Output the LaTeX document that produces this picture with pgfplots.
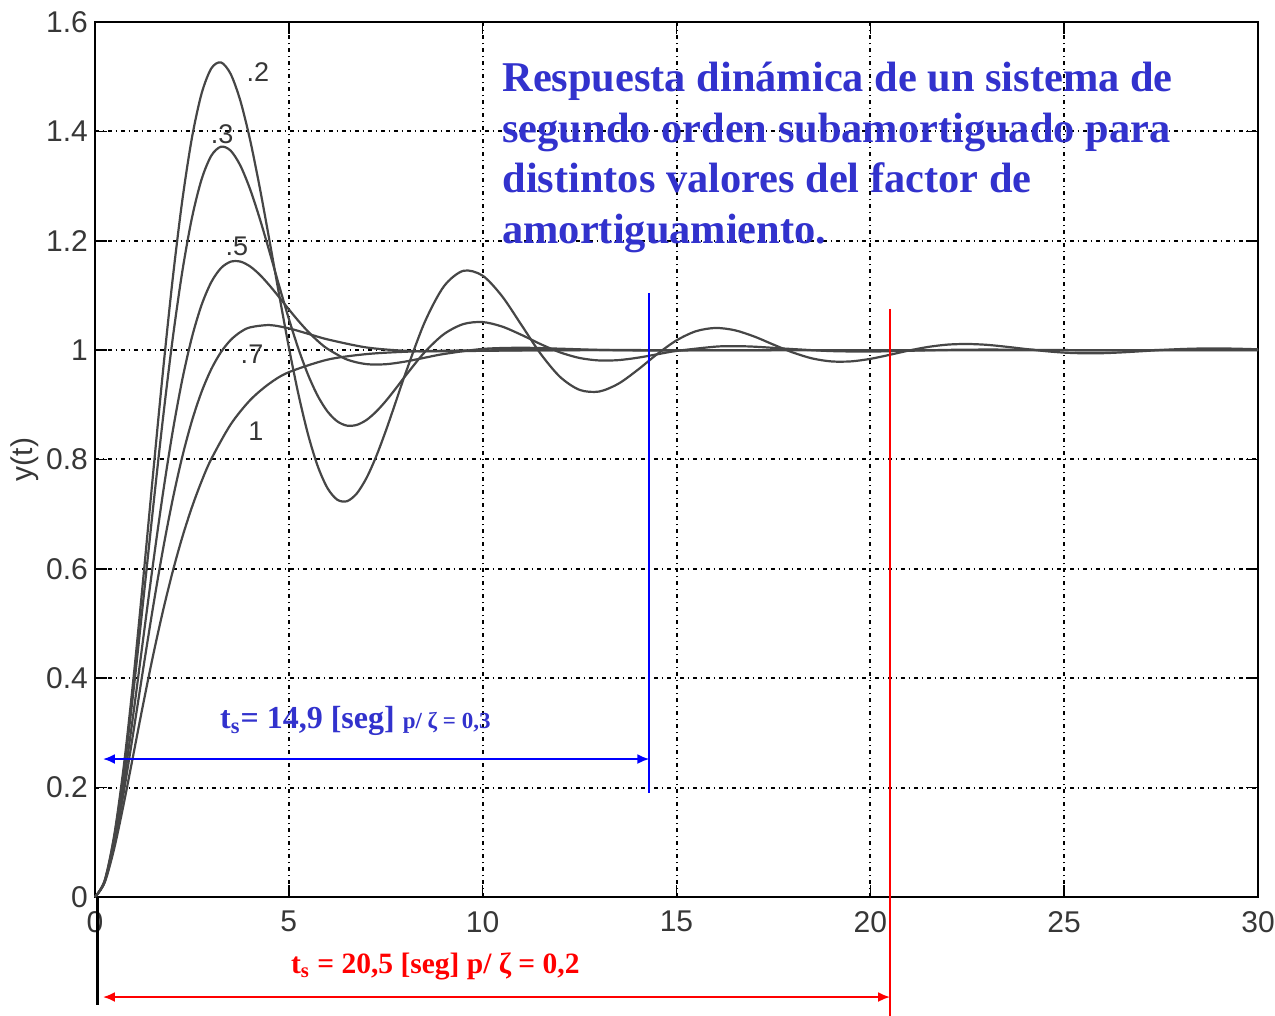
\documentclass[border=0pt]{standalone}
\usepackage{fontspec}
\setmainfont{Liberation Serif}
\setsansfont{Liberation Sans}
\usepackage{pgfplots}
\pgfplotsset{compat=1.18}
\usetikzlibrary{arrows.meta}
\definecolor{titleblue}{RGB}{50,50,205}
\definecolor{tickgray}{RGB}{55,55,55}
\definecolor{crvgray}{RGB}{70,70,70}

\begin{document}
\begin{tikzpicture}
\begin{axis}[
  at={(0,0)}, anchor=south west,
  scale only axis, width=581.5pt, height=437.5pt,
  xmin=0, xmax=30, ymin=0, ymax=1.6,
  xtick={0,5,10,15,20,25,30},
  ytick={0,0.2,0.4,0.6,0.8,1,1.2,1.4,1.6},
  yticklabels={0,0.2,0.4,0.6,0.8,1,1.2,1.4,1.6},
  /pgf/number format/assume math mode=true,
  ticklabel style={font=\sffamily\fontsize{15}{15}\selectfont, text=tickgray},
  xticklabel style={yshift=-3.5pt},
  ylabel={y(t)},
  every axis y label/.style={at={(axis description cs:-0.0602,0.5)}, rotate=90, anchor=center,
    font=\sffamily\fontsize{15}{15}\selectfont, text=tickgray},
  tick align=inside, major tick length=6pt,
  tick style={black, line width=0.8pt},
  axis line style={black, line width=1pt},
  grid=major,
  major grid style={black, line width=1pt, dash pattern=on 2pt off 1.8pt on 0.9pt off 1.8pt},
  clip=false,
  crv/.style={crvgray, line width=1.1pt, smooth, no markers},
]
% zeta = 1
\addplot[crv] table {
t y
0 0
0.25 0.0265
0.5 0.0902
0.75 0.1734
1 0.2642
1.25 0.3554
1.5 0.4422
1.75 0.5221
2 0.5940
2.25 0.6575
2.5 0.7127
2.75 0.7603
3 0.8009
3.5 0.8641
4 0.9084
4.5 0.9389
5 0.9596
6 0.9826
7 0.9927
8 0.9970
9 0.9988
10 0.9995
12 0.9999
15 1.0000
20 1
25 1
30 1
};
% zeta = 0.7
\addplot[crv] table {
t y
0 0
0.25 0.0278
0.5 0.0984
0.75 0.1953
1 0.3059
1.25 0.4203
1.5 0.5313
1.75 0.6341
2 0.7257
2.25 0.8047
2.5 0.8706
2.75 0.9238
3 0.9653
3.25 0.9964
3.5 1.0185
3.75 1.0330
4 1.0416
4.5 1.0458
5 1.0398
5.5 1.0298
6 1.0196
7 1.0049
8 0.9988
9 0.9979
10 0.9987
12 1.0000
15 1
20 1
25 1
30 1
};
% zeta = 0.5
\addplot[crv] table {
t y
0 0
0.25 0.0287
0.5 0.1044
0.75 0.2127
1 0.3403
1.25 0.4760
1.5 0.6105
1.75 0.7367
2 0.8494
2.25 0.9455
2.5 1.0234
2.75 1.0827
3 1.1244
3.25 1.1500
3.5 1.1617
3.75 1.1619
4 1.1531
4.25 1.1379
4.5 1.1184
4.75 1.0968
5 1.0746
5.25 1.0532
5.5 1.0336
5.75 1.0165
6 1.0023
6.5 0.9828
7 0.9744
7.5 0.9742
8 0.9790
8.5 0.9860
9 0.9929
10 1.0022
11 1.0043
12 1.0026
13 1.0004
14 0.9994
15 0.9994
16 0.9997
18 1.0000
20 1
25 1
30 1
};
% zeta = 0.3
\addplot[crv] table {
t y
0 0
0.25 0.0296
0.5 0.1111
0.75 0.2326
1 0.3814
1.25 0.5453
1.5 0.7125
1.75 0.8731
2 1.0186
2.25 1.1428
2.5 1.2415
2.75 1.3124
3 1.3555
3.25 1.3720
3.5 1.3647
3.75 1.3374
4 1.2944
4.25 1.2405
4.5 1.1801
4.75 1.1177
5 1.0573
5.25 1.0019
5.5 0.9542
5.75 0.9157
6 0.8875
6.25 0.8697
6.5 0.8619
6.75 0.8632
7 0.8721
7.25 0.8873
7.5 0.9068
7.75 0.9290
8 0.9522
8.5 0.9959
9 1.0292
9.5 1.0476
10 1.0513
10.5 1.0431
11 1.0279
11.5 1.0108
12 0.9958
12.5 0.9856
13 0.9811
13.5 0.9817
14 0.9861
14.5 0.9923
15 0.9985
16 1.0063
16.5 1.0072
17 1.0063
18 1.0019
19 0.9982
20 0.9974
21 0.9988
22 1.0004
23 1.0010
24 1.0006
26 0.9997
28 1.0002
30 1.0000
};
% zeta = 0.2
\addplot[crv] table {
t y
0 0
0.25 0.0301
0.5 0.1147
0.75 0.2436
1 0.4050
1.25 0.5863
1.5 0.7748
1.75 0.9587
2 1.1275
2.25 1.2727
2.5 1.3880
2.75 1.4693
3 1.5151
3.25 1.5261
3.5 1.5049
3.75 1.4559
4 1.3846
4.25 1.2972
4.5 1.2006
4.75 1.1014
5 1.0055
5.25 0.9185
5.5 0.8446
5.75 0.7869
6 0.7473
6.25 0.7264
6.5 0.7237
6.75 0.7376
7 0.7657
7.25 0.8050
7.5 0.8521
7.75 0.9035
8 0.9556
8.5 1.0503
9 1.1166
9.5 1.1450
10 1.1361
10.5 1.0986
11 1.0460
11.5 0.9928
12 0.9508
12.5 0.9273
13 0.9242
13.5 0.9385
14 0.9639
14.5 0.9926
15 1.0178
15.5 1.0345
16 1.0405
16.5 1.0364
17 1.0250
17.5 1.0101
18 0.9957
18.5 0.9848
19 0.9793
19.5 0.9794
20 0.9840
20.5 0.9914
21 0.9993
21.5 1.0059
22 1.0101
22.5 1.0112
23 1.0097
23.5 1.0062
24 1.0021
24.5 0.9982
25 0.9954
25.5 0.9942
26 0.9944
26.5 0.9959
27 0.9980
27.5 1.0002
28 1.0019
28.5 1.0029
29 1.0031
29.5 1.0025
30 1.0015
};

% curve labels
\begin{scope}[every node/.style={font=\sffamily\fontsize{13.5}{13.5}\selectfont, text=tickgray}]
\node at (axis cs:4.20,1.509) {.2};
\node at (axis cs:3.28,1.395) {.3};
\node at (axis cs:3.66,1.190) {.5};
\node at (axis cs:4.05,0.993) {.7};
\node at (axis cs:4.15,0.852) {1};
\end{scope}

% title
\begin{scope}[every node/.style={anchor=base west, inner sep=0pt, text=titleblue, font=\bfseries\fontsize{21.2}{21.2}\selectfont}]
\node at (axis cs:10.5,1.472) {Respuesta dinámica de un sistema de};
\node at (axis cs:10.5,1.3797) {segundo orden subamortiguado para};
\node at (axis cs:10.5,1.2873) {distintos valores del factor de};
\node at (axis cs:10.5,1.1950) {amortiguamiento.};
\end{scope}

% settling time, zeta = 0.3
\draw[blue, line width=1pt] (axis cs:14.30,1.1045) -- (axis cs:14.30,0.1902);
\draw[blue, line width=1pt, {Latex[length=6pt,width=5pt]}-{Latex[length=6pt,width=5pt]}]
  (axis cs:0.206,0.2523) -- (axis cs:14.30,0.2523);
\node[anchor=base west, inner sep=0pt, text=titleblue, font=\bfseries\fontsize{16}{16}\selectfont]
  at (axis cs:3.22,0.309) {t\textsubscript{s}= 14,9 [seg] {\fontsize{11.5}{11.5}\selectfont p/ ζ = 0,3}};

% settling time, zeta = 0.2
\draw[red, line width=1pt] (axis cs:20.51,1.0752) -- (axis cs:20.51,-0.2176);
\draw[black, line width=1.6pt] (axis cs:0.07,0) -- (axis cs:0.07,-0.1975);
\draw[red, line width=1pt, {Latex[length=6pt,width=5pt]}-{Latex[length=6pt,width=5pt]}]
  (axis cs:0.206,-0.1829) -- (axis cs:20.51,-0.1829);
\node[anchor=base west, inner sep=0pt, text=red, font=\bfseries\fontsize{14.75}{14.75}\selectfont]
  at (axis cs:5.05,-0.139) {t\textsubscript{s} = 20,5 [seg] p/ ζ = 0,2};
\end{axis}
\pgfresetboundingbox
\path[use as bounding box] (-47.5pt,-59.5pt) rectangle (590pt,448.5pt);
\end{tikzpicture}
\end{document}
